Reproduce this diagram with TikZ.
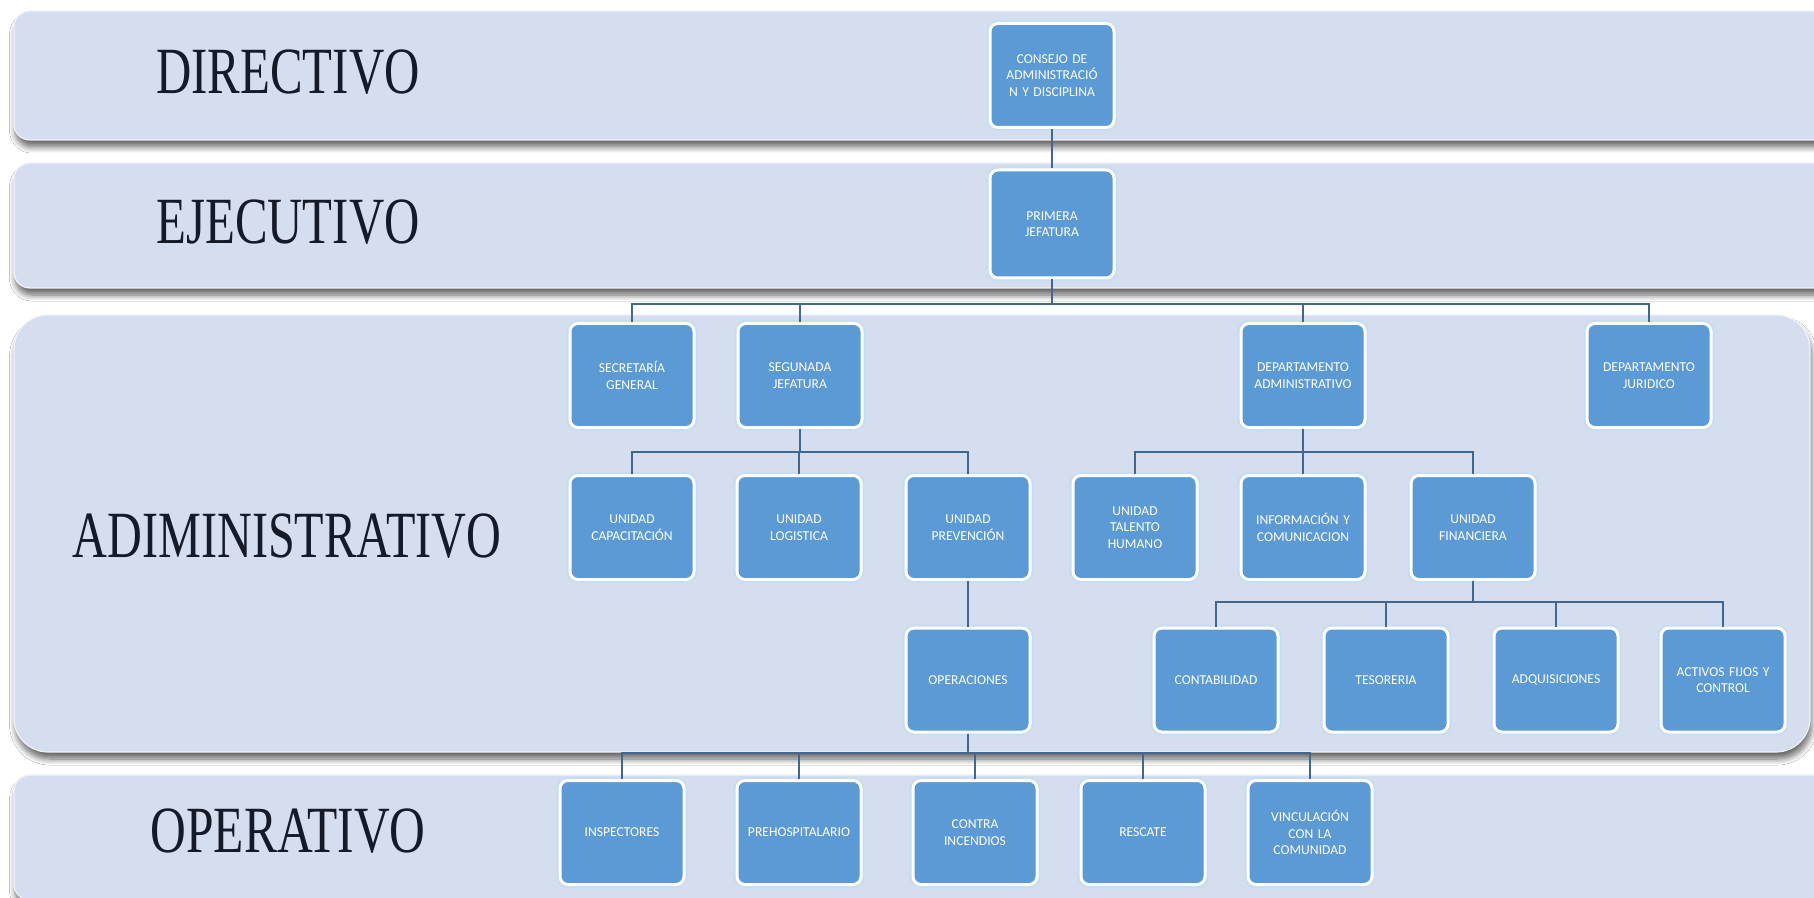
\documentclass[tikz,border=0pt]{standalone}
\usepackage{fontspec}
\setmainfont{Liberation Serif}
\newfontfamily\boxfont{Carlito}
\usetikzlibrary{shadows.blur}
\definecolor{bandc}{HTML}{D4DEEF}
\definecolor{boxc}{HTML}{5B9AD5}
\definecolor{linec}{HTML}{41678F}
\definecolor{lblc}{HTML}{151A28}
\tikzset{
  band/.style={fill=bandc, draw=white!60!bandc, line width=0.6pt,
    blur shadow={shadow xshift=0.8pt, shadow yshift=-3.5pt, shadow blur steps=8,
      shadow blur radius=3pt, shadow opacity=60}},
  lbl/.style={text=lblc, font=\fontsize{33}{33}\selectfont, inner sep=0pt},
  orgbox/.style={preaction={draw=boxc!35, line width=3.4pt},
    draw=white, line width=1.5pt, fill=boxc, rounded corners=4pt,
    minimum width=62pt, minimum height=52pt, text width=58pt, align=center,
    inner sep=1pt, text=white, font=\boxfont\fontsize{6.8}{8.2}\selectfont},
  conn/.style={draw=linec, line width=1.1pt}
}
\begin{document}
\begin{tikzpicture}[x=0.5pt,y=-0.5pt]
\useasboundingbox (0,0) rectangle (1814,898);
\fill[white] (0,0) rectangle (1814,898);
% bands
\path[band, rounded corners=8pt] (14,11) rectangle (1860,140);
\path[band, rounded corners=8pt] (14,163) rectangle (1860,288);
\path[band, rounded corners=17pt] (14,315) rectangle (1810,752);
\path[band, rounded corners=8pt] (14,775) rectangle (1860,900);
% labels
\node[lbl] (ldir) at (288,72) {\scalebox{0.74}[1]{DIRECTIVO}};
\node[lbl] (leje) at (288,222) {\scalebox{0.74}[1]{EJECUTIVO}};
\node[lbl] (ladm) at (287,536) {\scalebox{0.73}[1]{ADIMINISTRATIVO}};
\node[lbl] (lope) at (288,831) {\scalebox{0.75}[1]{OPERATIVO}};
% bus levels
\coordinate (b1) at (0,304);
\coordinate (b2) at (0,452);
\coordinate (b3) at (0,602);
\coordinate (b4) at (0,753);
% boxes
\node[orgbox] (cons) at (1052,75.5) {CONSEJO DE\\ADMINISTRACIÓ\\N Y DISCIPLINA};
\node[orgbox, minimum height=54pt] (prim) at (1052,224) {PRIMERA\\JEFATURA};
\node[orgbox] (sec) at (632,375.5) {SECRETARÍA\\GENERAL};
\node[orgbox] (seg) at (800,375.5) {SEGUNADA\\JEFATURA};
\node[orgbox] (dadm) at (1303,375.5) {DEPARTAMENTO\\ADMINISTRATIVO};
\node[orgbox] (djur) at (1649,375.5) {DEPARTAMENTO\\JURIDICO};
\node[orgbox] (ucap) at (632,527.5) {UNIDAD\\CAPACITACIÓN};
\node[orgbox] (ulog) at (799,527.5) {UNIDAD\\LOGISTICA};
\node[orgbox] (uprev) at (968,527.5) {UNIDAD\\PREVENCIÓN};
\node[orgbox] (utal) at (1135,527.5) {UNIDAD\\TALENTO\\HUMANO};
\node[orgbox] (uinf) at (1303,527.5) {INFORMACIÓN Y\\COMUNICACION};
\node[orgbox] (ufin) at (1473,527.5) {UNIDAD\\FINANCIERA};
\node[orgbox] (ops) at (968,680) {OPERACIONES};
\node[orgbox] (cont) at (1216,680) {CONTABILIDAD};
\node[orgbox] (tes) at (1386,680) {TESORERIA};
\node[orgbox] (adq) at (1556,680) {ADQUISICIONES};
\node[orgbox] (act) at (1723,680) {ACTIVOS FIJOS Y\\CONTROL};
\node[orgbox] (insp) at (622,832.5) {INSPECTORES};
\node[orgbox] (preh) at (799,832.5) {PREHOSPITALARIO};
\node[orgbox] (cinc) at (975,832.5) {CONTRA\\INCENDIOS};
\node[orgbox] (resc) at (1143,832.5) {RESCATE};
\node[orgbox] (vinc) at (1310,832.5) {VINCULACIÓN\\CON LA\\COMUNIDAD};
% connectors
\draw[conn] (cons) -- (prim);
\foreach \c in {sec,seg,dadm,djur}
  \draw[conn] (prim.south) -- (prim.south |- b1) -| (\c.north);
\foreach \c in {ucap,ulog,uprev}
  \draw[conn] (seg.south) -- (seg.south |- b2) -| (\c.north);
\foreach \c in {utal,uinf,ufin}
  \draw[conn] (dadm.south) -- (dadm.south |- b2) -| (\c.north);
\draw[conn] (uprev) -- (ops);
\foreach \c in {cont,tes,adq,act}
  \draw[conn] (ufin.south) -- (ufin.south |- b3) -| (\c.north);
\foreach \c in {insp,preh,cinc,resc,vinc}
  \draw[conn] (ops.south) -- (ops.south |- b4) -| (\c.north);
\end{tikzpicture}
\end{document}
